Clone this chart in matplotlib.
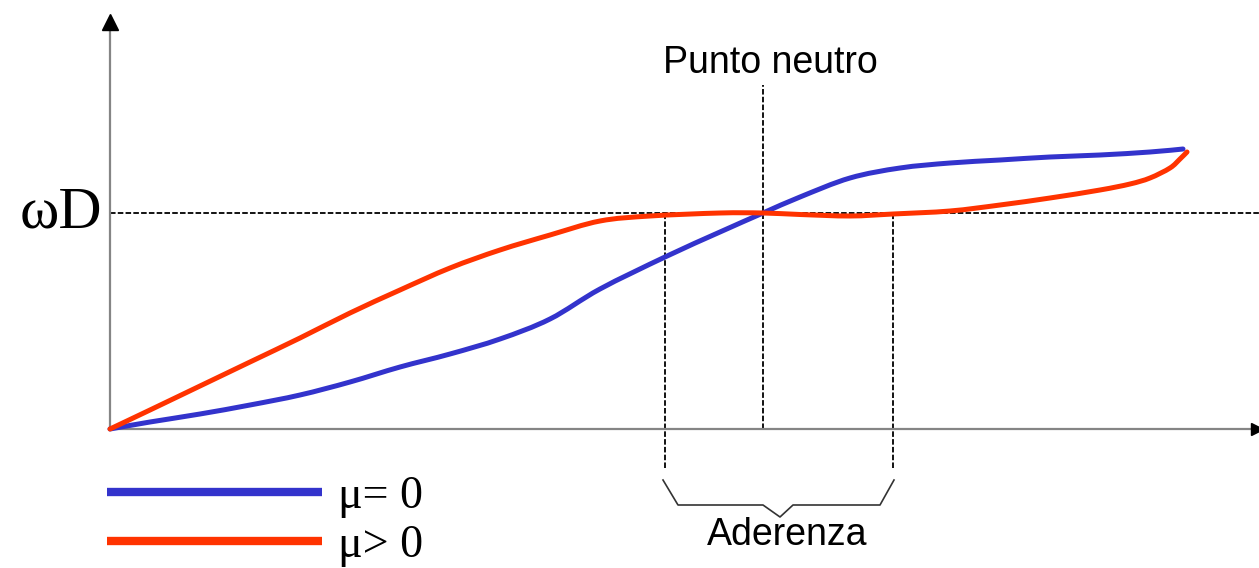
import matplotlib
matplotlib.use("Agg")
import matplotlib.pyplot as plt
from matplotlib.lines import Line2D
from matplotlib.path import Path
from matplotlib.patches import PathPatch

plt.rcParams['lines.scale_dashes'] = False

# ---- data (arbitrary units: x = position along contact arc, y = speed) ----
blue_x = [0, 40, 90, 140, 190, 240, 290, 340, 390, 440, 490, 555, 610,
          653, 690, 740, 790, 840, 890, 940, 990, 1040, 1073]
blue_y = [0, 7, 15, 24, 34, 47, 62, 75, 90, 110, 140, 172, 197,
          216, 232, 251, 261, 266, 269, 272, 274, 277, 280]

red_x = [0, 40, 90, 140, 190, 240, 290, 340, 390, 440, 490, 540, 610,
         653, 690, 740, 783, 840, 890, 940, 990, 1020, 1040, 1060, 1070, 1077]
red_y = [0, 19, 43, 67, 91, 116, 139, 161, 179, 194, 208, 213, 216,
         216, 214.5, 213, 215, 218, 224, 231, 239, 245, 251, 261, 270, 277]

omega_D = 216          # peripheral roll speed level
x_neutral = 653        # neutral point
x_adh_start = 555      # adhesion zone start
x_adh_end = 783        # adhesion zone end

labels = ["\u03bc= 0", "\u03bc> 0"]
blue = "#3333CC"
red = "#FF3300"


def smooth_path(xs, ys):
    """Catmull-Rom through the read points, rendered as cubic Bezier segments."""
    pts = list(zip(xs, ys))
    verts = [pts[0]]
    codes = [Path.MOVETO]
    n = len(pts)
    for i in range(n - 1):
        p0 = pts[i - 1] if i > 0 else pts[i]
        p1 = pts[i]
        p2 = pts[i + 1]
        p3 = pts[i + 2] if i + 2 < n else pts[i + 1]
        c1 = (p1[0] + (p2[0] - p0[0]) / 6, p1[1] + (p2[1] - p0[1]) / 6)
        c2 = (p2[0] - (p3[0] - p1[0]) / 6, p2[1] - (p3[1] - p1[1]) / 6)
        verts += [c1, c2, p2]
        codes += [Path.CURVE4] * 3
    return Path(verts, codes)


fig = plt.figure(figsize=(12.59, 5.68), dpi=100)
ax = fig.add_axes([0, 0, 1, 1])
ax.set_xlim(-110, 1149)
ax.set_ylim(-139, 429)
ax.axis('off')

dash = (0, (4, 1.6))

# axes (gray) with black arrow heads
ax.plot([0, 0], [0, 405], color="#858585", lw=1.6, solid_capstyle='butt', zorder=2)
ax.plot([0, 1145], [0, 0], color="#858585", lw=1.6, solid_capstyle='butt', zorder=2)
ax.plot([0], [407], marker='^', color='black', ms=11, zorder=3)
ax.plot([1147], [0], marker='>', color='black', ms=9, zorder=3)

# reference dashed lines
ax.plot([0, 1149], [omega_D, omega_D], color='black', lw=1.3, ls=dash, zorder=1)
ax.plot([x_neutral, x_neutral], [0, 344], color='black', lw=1.3, ls=dash, zorder=1)
ax.plot([x_adh_start, x_adh_start], [-39, omega_D], color='black', lw=1.3, ls=dash, zorder=1)
ax.plot([x_adh_end, x_adh_end], [-39, omega_D], color='black', lw=1.3, ls=dash, zorder=1)

# curves
ax.add_patch(PathPatch(smooth_path(blue_x, blue_y), facecolor='none', edgecolor=blue,
                       lw=3.6, capstyle='round', joinstyle='round', zorder=4))
ax.add_patch(PathPatch(smooth_path(red_x, red_y), facecolor='none', edgecolor=red,
                       lw=3.6, capstyle='round', joinstyle='round', zorder=5))

# brace under adhesion zone
bx0, bx1 = x_adh_start - 2, x_adh_end + 1
bmid = (x_adh_start + x_adh_end) / 2 + 1
ax.plot([bx0, bx0 + 15, bmid - 17, bmid, bmid + 13, bx1 - 14, bx1],
        [-51, -76, -76, -88, -76, -76, -51],
        color='#333333', lw=1.2, zorder=2)

# texts
ax.text(660, 366, "Punto neutro", ha='center', va='center',
        family='Liberation Sans', fontsize=27, color='black')
ax.text(677, -106, "Aderenza", ha='center', va='center',
        family='Liberation Sans', fontsize=27, color='black')
ax.text(-8, omega_D, "\u03c9D", ha='right', va='center',
        family='Liberation Serif', fontsize=43, color='black')

# legend
handles = [Line2D([], [], color=blue, lw=6, solid_capstyle='butt'),
           Line2D([], [], color=red, lw=6, solid_capstyle='butt')]
ax.legend(handles, labels, loc='upper left',
          bbox_to_anchor=(107 / 1259, 1 - 476 / 568), bbox_transform=fig.transFigure,
          frameon=False, prop={'family': 'Liberation Serif', 'size': 33},
          handlelength=4.7, handletextpad=0.33, labelspacing=0.14,
          borderpad=0, borderaxespad=0)

fig.savefig("out.png", dpi=100)
